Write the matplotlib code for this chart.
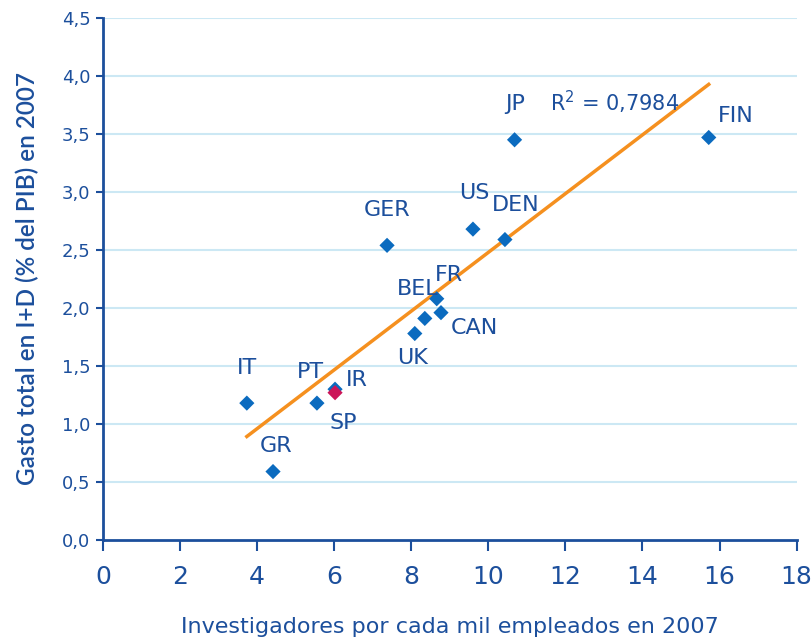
import numpy as np
import matplotlib.pyplot as plt

# investigadores por mil empleados vs gasto I+D (% PIB), 2007
paises = ['IT', 'GR', 'PT', 'IR', 'SP', 'UK', 'BEL', 'CAN', 'FR', 'GER', 'US', 'DEN', 'JP', 'FIN']
investigadores = [3.73, 4.41, 5.55, 6.02, 6.02, 8.09, 8.35, 8.77, 8.66, 7.37, 9.60, 10.43, 10.68, 15.72]
gasto = [1.18, 0.59, 1.18, 1.30, 1.27, 1.78, 1.91, 1.96, 2.08, 2.54, 2.68, 2.59, 3.45, 3.47]
r2_texto = 'R$^2$ = 0,7984'

x_ticks = [0, 2, 4, 6, 8, 10, 12, 14, 16, 18]
y_ticks = [0.0, 0.5, 1.0, 1.5, 2.0, 2.5, 3.0, 3.5, 4.0, 4.5]

# desplazamiento de las etiquetas (pixeles)
offsets = {'IT': (0, 35), 'GR': (3, 26), 'PT': (-6, 31), 'IR': (22, 9), 'SP': (8, -30),
           'UK': (-2, -24), 'BEL': (-7, 29), 'CAN': (33, -15), 'FR': (12, 24),
           'GER': (0, 35), 'US': (1, 36), 'DEN': (11, 35), 'JP': (1, 36), 'FIN': (27, 21)}

azul_texto = '#1c4f9c'
azul_punto = '#0b6bbf'
naranja = '#f5901f'
rojo = '#cc1558'
rejilla = '#cce8f4'

fig = plt.figure(figsize=(8.12, 6.38), dpi=100)
ax = fig.add_axes([0.127, 0.1536, 0.854, 0.8182])

ax.set_xlim(0, 18)
ax.set_ylim(0, 4.5)

for y in y_ticks[1:]:
    ax.axhline(y, color=rejilla, lw=1.5, zorder=0)

# linea de tendencia
a, b = np.polyfit(investigadores, gasto, 1)
xs = np.array([min(investigadores), max(investigadores)])
ax.plot(xs, a * xs + b, color=naranja, lw=2.5, zorder=2)

colores = [rojo if p == 'SP' else azul_punto for p in paises]
ax.scatter(investigadores, gasto, marker='D', s=60, c=colores, zorder=3, linewidths=0)

for p, xv, yv in zip(paises, investigadores, gasto):
    dx, dy = offsets[p]
    ax.annotate(p, (xv, yv), xytext=(dx, dy), textcoords='offset pixels',
                ha='center', va='center', fontsize=16, color=azul_texto)

ax.annotate(r2_texto, (0.738, 0.839), xycoords='axes fraction', ha='center', va='center',
            fontsize=15, color=azul_texto)

ax.set_xticks(x_ticks)
ax.set_yticks(y_ticks)
ax.set_xticklabels([str(v) for v in x_ticks], fontsize=18)
ax.set_yticklabels([f'{v:.1f}'.replace('.', ',') for v in y_ticks], fontsize=13)
ax.tick_params(axis='x', direction='out', length=8, width=1.5, color=azul_texto,
               labelcolor=azul_texto, pad=10)
ax.tick_params(axis='y', direction='out', length=5, width=1.5, color=azul_texto,
               labelcolor=azul_texto, pad=4)

for s in ['top', 'right']:
    ax.spines[s].set_visible(False)
for s in ['left', 'bottom']:
    ax.spines[s].set_color(azul_texto)
    ax.spines[s].set_linewidth(2)

ax.set_xlabel('Investigadores por cada mil empleados en 2007', fontsize=16, color=azul_texto,
              labelpad=20)
ax.set_ylabel('Gasto total en I+D (% del PIB) en 2007', fontsize=17.5, color=azul_texto,
              family=['Lato', 'DejaVu Sans'], fontweight='semibold', labelpad=16)

fig.savefig('out.png', dpi=100)
